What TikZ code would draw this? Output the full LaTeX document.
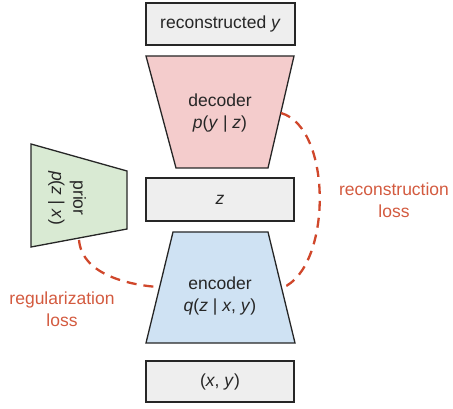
\documentclass[tikz,border=0pt]{standalone}
\usepackage{fontspec}
\setmainfont{Liberation Sans}
\definecolor{boxgray}{HTML}{EEEEEE}
\definecolor{decpink}{HTML}{F4CCCC}
\definecolor{encblue}{HTML}{CFE2F3}
\definecolor{priorgreen}{HTML}{D9EAD3}
\definecolor{lossred}{HTML}{D0472B}
\definecolor{labelred}{HTML}{D35A3F}
\begin{document}
\begin{tikzpicture}[x=1pt,y=-1pt,
  shapeline/.style={draw=black!85,line width=1.3pt,line join=miter},
  txt/.style={font=\fontsize{17.5}{21.5}\selectfont,align=center,text=black!85,inner sep=0pt},
  losstxt/.style={font=\fontsize{17.5}{21.5}\selectfont,align=center,text=labelred,inner sep=0pt},
  lossline/.style={draw=lossred,line width=2.3pt,dash pattern=on 10pt off 7pt}]
\useasboundingbox (0,0) rectangle (453,409);
% top box
\draw[shapeline,fill=boxgray] (146,3) rectangle (295,45);
\node[txt] (recon) at (220.5,24) {reconstructed \textit{y}};
% decoder
\draw[shapeline,fill=decpink] (146,56) -- (294,56) -- (268,168) -- (176,168) -- cycle;
\node[txt] (dec) at (220,113) {decoder\\\textit{p}(\textit{y} | \textit{z})};
% z box
\draw[shapeline,fill=boxgray] (146,178) rectangle (294,221);
\node[txt] (z) at (220,200) {\textit{z}};
% encoder
\draw[shapeline,fill=encblue] (173,232) -- (268,232) -- (295,343) -- (146,343) -- cycle;
\node[txt] (enc) at (220,296) {encoder\\\textit{q}(\textit{z} | \textit{x}, \textit{y})};
% xy box
\draw[shapeline,fill=boxgray] (146,361) rectangle (294,402);
\node[txt] (xy) at (220,382) {(\textit{x}, \textit{y})};
% prior
\draw[shapeline,fill=priorgreen] (31,144) -- (127,171) -- (127,229) -- (31,247) -- cycle;
\node[txt,rotate=-90] (prior) at (67,198) {prior\\\textit{p}(\textit{z} | \textit{x})};
% loss curves
\coordinate (decR) at (281,113);
\coordinate (encR) at (282,288);
\coordinate (priorB) at (79,240);
\coordinate (encL) at (158,287);
\draw[lossline] (decR) .. controls (333,128) and (332,268) .. (encR);
\draw[lossline] (priorB) .. controls (82,275) and (130,285) .. (encL);
\node[losstxt] (rl) at (394,200) {reconstruction\\loss};
\node[losstxt] (gl) at (62,309) {regularization\\loss};
\end{tikzpicture}
\end{document}
